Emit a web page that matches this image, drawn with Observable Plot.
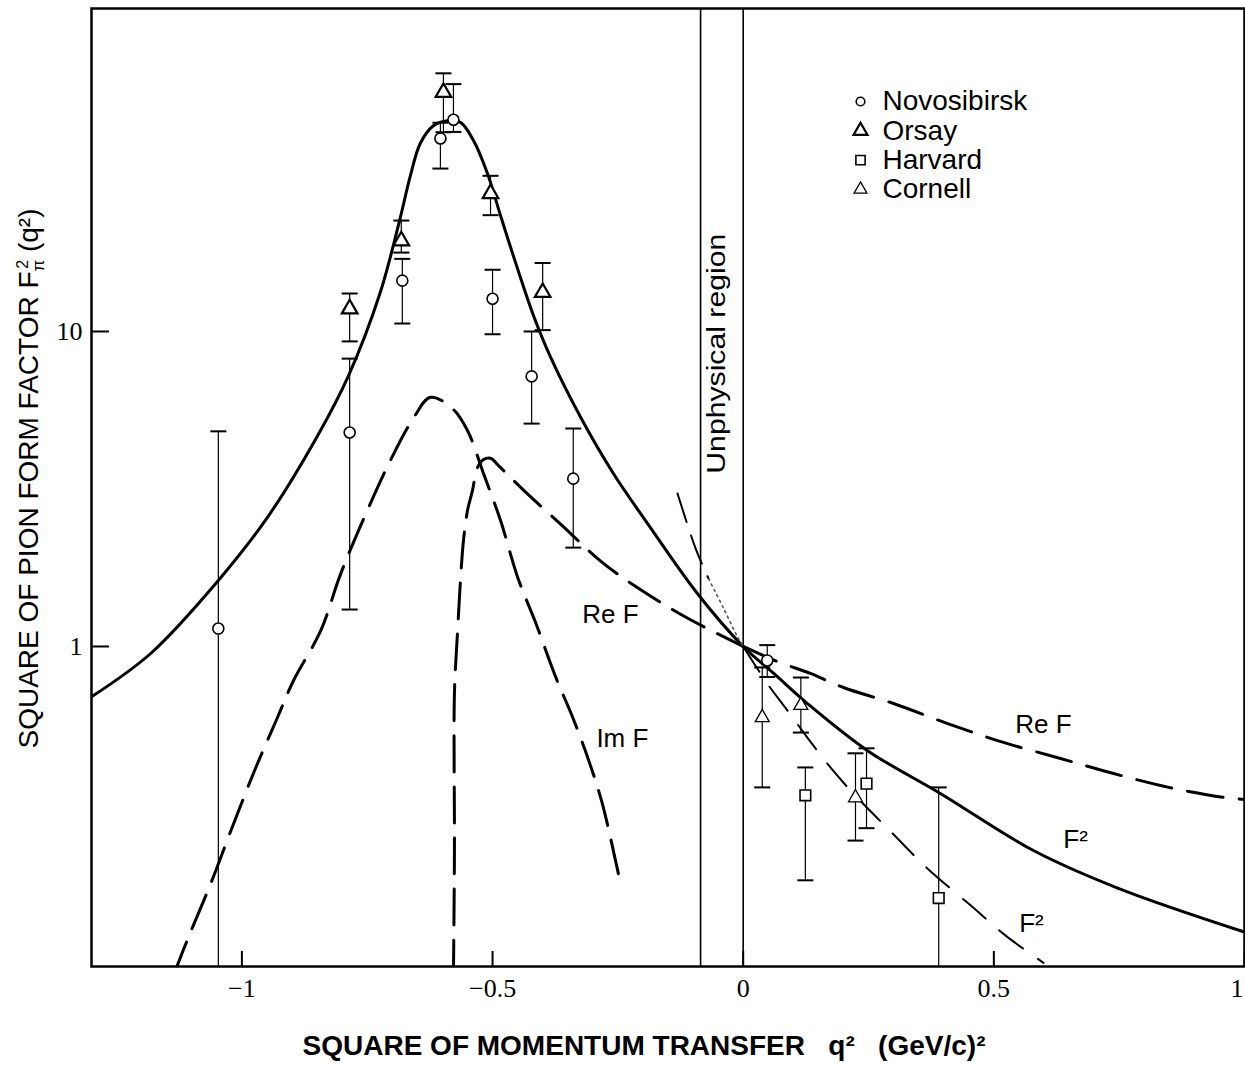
<!DOCTYPE html>
<html>
<head>
<meta charset="utf-8">
<script src="https://cdn.jsdelivr.net/npm/d3@7"></script>
<script src="https://cdn.jsdelivr.net/npm/@observablehq/plot@0.6"></script>
<style>
  body { margin: 0; background: #fff; }
  #chart svg { display: block; }
</style>
</head>
<body>
<div id="chart"></div>
<script>
// ---------------- data ----------------
const xTickValues = [-1, -0.5, 0, 0.5, 1];
const xTickLabels = ["−1", "−0.5", "0", "0.5", "1"];
const yTickValues = [1, 10];
const yTickLabels = ["1", "10"];
const unphysicalEdges = [-0.085, 0];

// solid F² curve [q², F²]
const curveF2 = [
  [-1.302, 0.689], [-1.182, 0.950], [-1.047, 1.62], [-0.949, 2.57], [-0.849, 4.67],
  [-0.787, 7.26], [-0.724, 13.3], [-0.684, 23.0], [-0.664, 31.2], [-0.644, 39.6],
  [-0.618, 45.0], [-0.590, 46.7], [-0.564, 46.1], [-0.538, 40.4], [-0.510, 31.7],
  [-0.484, 23.3], [-0.450, 15.8], [-0.418, 11.2], [-0.384, 8.27], [-0.324, 5.33],
  [-0.259, 3.54], [-0.191, 2.46], [-0.091, 1.47], [0, 1.0], [0.061, 0.821],
  [0.128, 0.659], [0.248, 0.467], [0.394, 0.341], [0.579, 0.225], [0.747, 0.171],
  [1.0, 0.124]
];
// Re F, timelike branch
const curveReFLeft = [
  [-0.578, 0.09], [-0.576, 0.225], [-0.576, 0.71], [-0.570, 1.10], [-0.564, 1.62],
  [-0.558, 2.17], [-0.550, 2.70], [-0.540, 3.13], [-0.530, 3.70], [-0.518, 3.92],
  [-0.504, 3.96], [-0.488, 3.75], [-0.434, 3.09], [-0.361, 2.42], [-0.285, 1.87],
  [-0.209, 1.53], [-0.115, 1.24], [0, 1.0]
];
// Re F, spacelike branch
const curveReFRight = [
  [0, 1.0], [0.068, 0.896], [0.134, 0.821], [0.200, 0.741], [0.300, 0.659],
  [0.408, 0.569], [0.519, 0.496], [0.633, 0.441], [0.739, 0.395], [0.849, 0.357],
  [0.958, 0.332], [1.0, 0.327]
];
// Im F
const curveImF = [
  [-1.137, 0.09], [-1.107, 0.119], [-1.062, 0.177], [-1.022, 0.260], [-0.973, 0.410],
  [-0.929, 0.595], [-0.897, 0.78], [-0.843, 1.12], [-0.803, 1.70], [-0.750, 2.70],
  [-0.704, 3.89], [-0.658, 5.30], [-0.624, 6.18], [-0.580, 5.69], [-0.550, 4.85],
  [-0.518, 3.54], [-0.484, 2.51], [-0.450, 1.66], [-0.414, 1.19], [-0.374, 0.80],
  [-0.340, 0.595], [-0.308, 0.434], [-0.281, 0.317], [-0.249, 0.190]
];
// second F² fit (thin dashed)
const curveF2AltLeft = [[-0.131, 3.06], [-0.095, 2.05], [-0.069, 1.64]];
const curveF2AltDotted = [[-0.069, 1.64], [-0.040, 1.33], [-0.011, 1.07], [0, 1.0]];
const curveF2AltRight = [
  [0, 1.0], [0.048, 0.763], [0.088, 0.627], [0.128, 0.514], [0.174, 0.413],
  [0.220, 0.341], [0.298, 0.255], [0.368, 0.197], [0.453, 0.151], [0.523, 0.121],
  [0.599, 0.099]
];

// measurements [q², F², low, high]
const novosibirsk = [
  [-1.047, 1.14, 0.05, 4.82], [-0.785, 4.78, 1.31, 8.20], [-0.680, 14.5, 10.6, 17.0],
  [-0.604, 41.0, 32.9, 46.0], [-0.578, 47.0, 43.0, 61.0], [-0.500, 12.7, 9.8, 15.7],
  [-0.422, 7.20, 5.1, 10.0], [-0.339, 3.41, 2.06, 4.92], [0.048, 0.903, 0.80, 1.01]
];
const orsay = [
  [-0.785, 11.8, 9.3, 13.2], [-0.682, 19.4, 17.8, 22.5], [-0.598, 57.4, 42.9, 66.0],
  [-0.504, 27.4, 23.4, 31.2], [-0.400, 13.3, 10.1, 16.5]
];
const harvard = [
  [0.124, 0.337, 0.181, 0.413], [0.246, 0.367, 0.265, 0.475], [0.390, 0.159, 0.05, 0.357]
];
const cornell = [
  [0.038, 0.595, 0.357, 0.858], [0.115, 0.65, 0.533, 0.797], [0.224, 0.331, 0.242, 0.458]
];

const legendNames = ["Novosibirsk", "Orsay", "Harvard", "Cornell"];
const curveLabelText = ["Re F", "Im F", "Re F", "F²", "F²"];
const curveLabelX = [-0.265, -0.241, 0.599, 0.663, 0.575];
const curveLabelY = [1.26, 0.511, 0.565, 0.244, 0.132];
const regionLabel = "Unphysical region";
const regionLabelY = 8.5;
const xTitle = "SQUARE OF MOMENTUM TRANSFER\u00a0\u00a0\u00a0q²\u00a0\u00a0\u00a0(GeV/c)²";
const yTitle = "SQUARE OF PION FORM FACTOR F";

// ---------------- styles ----------------
const seriesData = {Novosibirsk: novosibirsk, Orsay: orsay, Harvard: harvard, Cornell: cornell};
const seriesStyle = {
  Novosibirsk: {symbol: "circle", r: 5.5, sw: 1.6, lr: 4.3},
  Orsay: {symbol: "triangle", r: 5.8, sw: 2.2, lr: 5.2},
  Harvard: {symbol: "square", r: 6, sw: 1.6, lr: 5.2},
  Cornell: {symbol: "triangle", r: 5.2, sw: 1.3, lr: 4.8}
};
const capSymbol = {
  draw(ctx, size) {
    const w = Math.sqrt(size / Math.PI);
    ctx.moveTo(-w, 0);
    ctx.lineTo(w, 0);
  }
};
const X = d => d[0], Y = d => d[1];
const rows = arr => arr.map(([x, y, lo, hi]) => ({x, y, lo, hi}));
const sans = "Liberation Sans, Arial, sans-serif";
const serif = "Liberation Serif, Times New Roman, serif";

const pointMarks = legendNames.flatMap(name => {
  const data = rows(seriesData[name]);
  const st = seriesStyle[name];
  return [
    Plot.ruleX(data, {x: "x", y1: "lo", y2: "hi", stroke: "black", strokeWidth: 1.2, clip: true}),
    Plot.dot(data, {x: "x", y: "hi", symbol: capSymbol, r: 8, stroke: "black", strokeWidth: 2, fill: "none", clip: true}),
    Plot.dot(data, {x: "x", y: "lo", symbol: capSymbol, r: 8, stroke: "black", strokeWidth: 2, fill: "none", clip: true}),
    Plot.dot(data, {x: "x", y: "y", symbol: st.symbol, r: st.r, stroke: "black", strokeWidth: st.sw, fill: "white"})
  ];
});

const legendMarks = legendNames.flatMap((name, i) => {
  const st = seriesStyle[name];
  const dy = 93 + 29.3 * i;
  return [
    Plot.dot([name], {frameAnchor: "top-left", dx: 769, dy, symbol: st.symbol, r: st.lr, stroke: "black", strokeWidth: st.sw, fill: "white"}),
    Plot.text([name], {frameAnchor: "top-left", dx: 791, dy, text: d => d, textAnchor: "start", lineAnchor: "middle", fontSize: 28, fontFamily: sans, fill: "black"})
  ];
});

const curveLabels = curveLabelText.map((t, i) => ({t, x: curveLabelX[i], y: curveLabelY[i]}));
const lastTick = xTickValues.length - 1;

const chart = Plot.plot({
  width: 1245,
  height: 1065,
  marginLeft: 91,
  marginRight: 1,
  marginTop: 8,
  marginBottom: 99,
  style: {background: "white", color: "black", fontFamily: sans},
  x: {domain: [-1.3, 1.0]},
  y: {type: "log", domain: [0.0964, 106]},
  marks: [
    Plot.ruleX(unphysicalEdges, {stroke: "black", strokeWidth: 1.6}),
    Plot.line(curveF2, {x: X, y: Y, curve: "catmull-rom", stroke: "black", strokeWidth: 3, clip: true}),
    Plot.line(curveReFLeft, {x: X, y: Y, curve: "catmull-rom", stroke: "black", strokeWidth: 3, strokeDasharray: "36,15", clip: true}),
    Plot.line(curveReFRight, {x: X, y: Y, curve: "catmull-rom", stroke: "black", strokeWidth: 3, strokeDasharray: "36,16", clip: true}),
    Plot.line(curveImF, {x: X, y: Y, curve: "catmull-rom", stroke: "black", strokeWidth: 3, strokeDasharray: "36,15", clip: true}),
    Plot.line(curveF2AltLeft, {x: X, y: Y, curve: "catmull-rom", stroke: "black", strokeWidth: 2, strokeDasharray: "30,14", clip: true}),
    Plot.line(curveF2AltDotted, {x: X, y: Y, curve: "catmull-rom", stroke: "#555", strokeWidth: 1.6, strokeDasharray: "2,4", clip: true}),
    Plot.line(curveF2AltRight, {x: X, y: Y, curve: "catmull-rom", stroke: "black", strokeWidth: 2, strokeDasharray: "30,18", clip: true}),
    ...pointMarks,
    Plot.frame({stroke: "black", strokeWidth: 2.5}),
    Plot.axisY(yTickValues, {tickSize: -18, strokeWidth: 2, tickFormat: () => "", label: null}),
    Plot.axisY(yTickValues, {tickSize: 0, tickPadding: 9, tickFormat: d => yTickLabels[yTickValues.indexOf(d)], fontSize: 26, fontFamily: serif, label: null}),
    Plot.axisX(xTickValues, {tickSize: -15, strokeWidth: 2, tickFormat: () => "", label: null}),
    Plot.axisX(xTickValues.slice(0, lastTick), {tickSize: 0, tickPadding: 12, tickFormat: d => xTickLabels[xTickValues.indexOf(d)], fontSize: 26, fontFamily: serif, label: null}),
    Plot.axisX(xTickValues.slice(lastTick), {tickSize: 0, tickPadding: 12, tickFormat: () => xTickLabels[lastTick], textAnchor: "end", dx: -1, fontSize: 26, fontFamily: serif, label: null}),
    Plot.text(curveLabels, {x: "x", y: "y", text: "t", fontSize: 26, fontFamily: sans, fill: "black"}),
    Plot.text([regionLabel], {x: () => (unphysicalEdges[0] + unphysicalEdges[1]) / 2, y: () => regionLabelY, text: d => d, rotate: -90, dx: -5, fontSize: 25, fontFamily: sans, fill: "black"}),
    ...legendMarks,
    Plot.text([yTitle], {frameAnchor: "left", dx: -62, dy: -9, rotate: -90, text: d => d, textAnchor: "middle", lineAnchor: "middle", fontSize: 28, fontFamily: sans, fill: "black"}),
    Plot.text([xTitle], {frameAnchor: "bottom", dx: -24, dy: 80, text: d => d, textAnchor: "middle", lineAnchor: "middle", fontSize: 27, fontWeight: "bold", fontFamily: sans, fill: "black"})
  ]
});

// text refinements: sub/superscripts and stretched lettering
d3.select(chart).selectAll("text").each(function () {
  const t = this.textContent;
  const sel = d3.select(this);
  if (t === yTitle) {
    sel.text(yTitle);
    sel.append("tspan").attr("font-size", 17).attr("dy", 6).text("π");
    sel.append("tspan").attr("font-size", 16).attr("dy", -16).attr("dx", -9).text("2");
    sel.append("tspan").attr("dy", 10).text("\u00a0(q²)");
  } else if (t === xTitle) {
    sel.attr("textLength", 683).attr("lengthAdjust", "spacingAndGlyphs");
  } else if (t === regionLabel) {
    sel.attr("textLength", 240).attr("lengthAdjust", "spacingAndGlyphs");
  }
});

document.getElementById("chart").appendChild(chart);
</script>
</body>
</html>
